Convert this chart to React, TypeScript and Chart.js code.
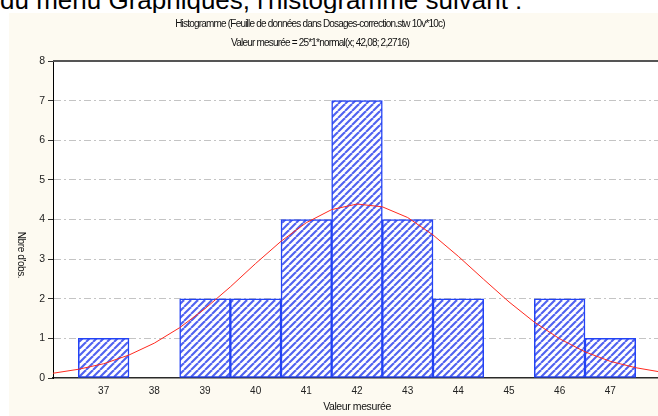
import React, { useEffect, useRef } from 'react';
import { Chart, registerables } from 'chart.js';

Chart.register(...registerables);

const binCenters = [37, 38, 39, 40, 41, 42, 43, 44, 45, 46, 47];
const counts = [1, 0, 2, 2, 4, 7, 4, 2, 0, 2, 1];
const curveX = [36, 36.5, 37, 37.5, 38, 38.5, 39, 39.5, 40, 40.5, 41, 41.5, 42, 42.5, 43, 43.5, 44, 44.5, 45, 45.5, 46, 46.5, 47, 47.5, 48];
const curveY = [0.12, 0.22, 0.36, 0.58, 0.88, 1.27, 1.75, 2.3, 2.89, 3.45, 3.92, 4.25, 4.39, 4.32, 4.05, 3.61, 3.07, 2.49, 1.92, 1.41, 0.99, 0.66, 0.42, 0.26, 0.15];
const xTickLabels = [37, 38, 39, 40, 41, 42, 43, 44, 45, 46, 47];
const yTickLabels = [0, 1, 2, 3, 4, 5, 6, 7, 8];

const headerText = "du menu Graphiques, l'histogramme suivant :";
const titleLine1 = 'Histogramme (Feuille de données dans Dosages-correction.stw 10v*10c)';
const titleLine2 = 'Valeur mesurée = 25*1*normal(x; 42,08; 2,2716)';
const xTitle = 'Valeur mesurée';
const yTitle = "Nbre d'obs.";

const FONT = '"Liberation Sans", Arial, sans-serif';

function makeHatch(): CanvasPattern | string {
  const s = 7;
  const c = document.createElement('canvas');
  c.width = s;
  c.height = s;
  const g = c.getContext('2d');
  if (!g) return '#8090f0';
  g.fillStyle = '#ffffff';
  g.fillRect(0, 0, s, s);
  g.strokeStyle = '#5062f0';
  g.lineWidth = 2.1;
  for (let k = -1; k <= 1; k++) {
    g.beginPath();
    g.moveTo(k * s, s);
    g.lineTo(k * s + s, 0);
    g.stroke();
  }
  const p = g.createPattern(c, 'repeat');
  return p || '#8090f0';
}

const decoPlugin = {
  id: 'deco',
  beforeDraw(chart: any) {
    const { ctx, chartArea: a } = chart;
    ctx.save();
    ctx.fillStyle = '#ffffff';
    ctx.fillRect(a.left, a.top, a.right - a.left, a.bottom - a.top);
    ctx.restore();
  },
  afterDraw(chart: any) {
    const { ctx, chartArea: a } = chart;
    ctx.save();
    ctx.strokeStyle = '#555555';
    ctx.lineWidth = 2;
    ctx.beginPath();
    ctx.moveTo(a.left, a.top);
    ctx.lineTo(chart.width, a.top);
    ctx.stroke();

    ctx.fillStyle = '#111111';
    ctx.textAlign = 'center';
    ctx.textBaseline = 'middle';
    ctx.font = `10px ${FONT}`;
    (ctx as any).letterSpacing = '-0.8px';
    ctx.fillText(titleLine1, 301, 11);
    ctx.fillText(titleLine2, 311, 30);

    (ctx as any).letterSpacing = '-0.4px';
    ctx.font = `10.5px ${FONT}`;
    ctx.fillText(xTitle, (a.left + a.right) / 2, 394);

    ctx.translate(12, 242);
    ctx.rotate(Math.PI / 2);
    ctx.font = `10px ${FONT}`;
    ctx.fillText(yTitle, 0, 0);
    ctx.restore();
  },
};

export default function App() {
  const ref = useRef<HTMLCanvasElement>(null);

  useEffect(() => {
    if (!ref.current) return;
    const hatch = makeHatch();
    const chart = new Chart(ref.current, {
      type: 'bar',
      data: {
        datasets: [
          {
            type: 'line',
            label: 'normal',
            data: curveX.map((x, i) => ({ x, y: curveY[i] })),
            borderColor: '#ff2a1f',
            borderWidth: 1,
            pointRadius: 0,
            tension: 0,
            fill: false,
            order: 0,
          } as any,
          {
            type: 'bar',
            label: 'obs',
            data: binCenters.map((x, i) => ({ x, y: counts[i] })),
            backgroundColor: hatch as any,
            borderColor: '#2343f5',
            borderWidth: 1.5,
            borderSkipped: false,
            barPercentage: 1,
            categoryPercentage: 1,
            order: 1,
          } as any,
        ],
      },
      options: {
        responsive: false,
        animation: false,
        devicePixelRatio: 1,
        layout: { padding: { top: 48, right: 3, left: 0, bottom: 0 } },
        plugins: {
          legend: { display: false },
          tooltip: { enabled: false },
          title: { display: false },
        },
        scales: {
          x: {
            type: 'linear',
            min: 36,
            max: 48,
            offset: false,
            afterBuildTicks: (scale: any) => {
              scale.ticks = xTickLabels.map((v) => ({ value: v }));
            },
            afterFit: (scale: any) => {
              scale.height = 38;
            },
            grid: { display: false, drawTicks: false },
            border: { display: true, color: '#2a2a2a', width: 1.5 },
            ticks: {
              padding: 7,
              maxRotation: 0,
              autoSkip: false,
              color: '#222222',
              font: { family: FONT, size: 10 },
            },
          },
          y: {
            min: 0,
            max: 8,
            afterBuildTicks: (scale: any) => {
              scale.ticks = yTickLabels.map((v) => ({ value: v }));
            },
            afterFit: (scale: any) => {
              scale.width = 44;
            },
            grid: {
              color: (c: any) =>
                c.tick && (c.tick.value === 0 || c.tick.value === 8) ? 'rgba(0,0,0,0)' : '#c4c4c4',
              lineWidth: 1,
              drawTicks: true,
              tickLength: 5,
              tickColor: '#333333',
              tickBorderDash: [],
            } as any,
            border: { display: true, color: '#000000', width: 1, dash: [7, 3, 2, 3] },
            ticks: {
              padding: 3,
              color: '#222222',
              font: { family: FONT, size: 10.5 },
            },
          },
        },
      },
      plugins: [decoPlugin],
    });
    return () => chart.destroy();
  }, []);

  return (
    <div
      style={{
        position: 'absolute',
        left: 0,
        top: 0,
        width: 658,
        height: 416,
        overflow: 'hidden',
        background: '#ffffff',
      }}
    >
      <div
        style={{
          position: 'absolute',
          left: 0,
          top: -13,
          fontFamily: FONT,
          fontSize: 26,
          lineHeight: '26px',
          color: '#000',
          whiteSpace: 'nowrap',
        }}
      >
        {headerText}
      </div>
      <canvas
        ref={ref}
        width={655}
        height={403}
        style={{
          position: 'absolute',
          left: 9,
          top: 13,
          width: 655,
          height: 403,
          background: '#fdfaf1',
        }}
      />
    </div>
  );
}
